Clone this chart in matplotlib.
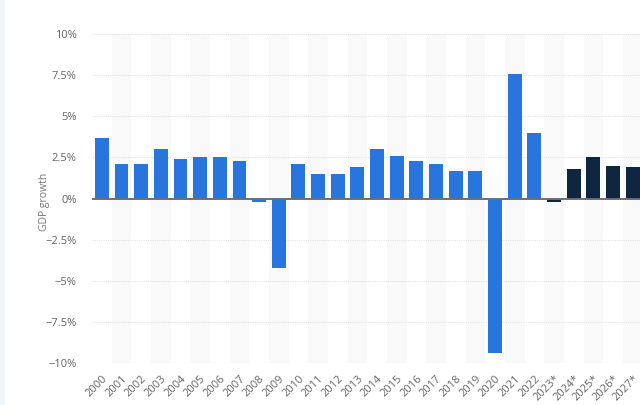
import matplotlib.pyplot as plt
from matplotlib.patches import Rectangle
from matplotlib.ticker import FuncFormatter

# data
years = ['2000', '2001', '2002', '2003', '2004', '2005', '2006', '2007', '2008', '2009',
         '2010', '2011', '2012', '2013', '2014', '2015', '2016', '2017', '2018', '2019',
         '2020', '2021', '2022', '2023*', '2024*', '2025*', '2026*', '2027*']
growth = [3.7, 2.1, 2.1, 3.0, 2.4, 2.5, 2.5, 2.3, -0.2, -4.2,
          2.1, 1.5, 1.5, 1.9, 3.0, 2.6, 2.3, 2.1, 1.7, 1.7,
          -9.4, 7.6, 4.0, -0.2, 1.8, 2.5, 2.0, 1.9]
is_forecast = [y.endswith('*') for y in years]
yticks = [-10, -7.5, -5, -2.5, 0, 2.5, 5, 7.5, 10]

blue = '#2876dd'
navy = '#0f2640'
txt = '#666666'

plt.rcParams['font.family'] = ['Open Sans', 'DejaVu Sans']

fig = plt.figure(figsize=(6.4, 4.05), dpi=100)
fig.patch.set_facecolor('#f3f4f6')
# white card behind everything
fig.patches.append(Rectangle((5 / 640, 0), 1, 1, transform=fig.transFigure,
                             facecolor='white', edgecolor='none', zorder=-10))

ax = fig.add_axes([92 / 640, 41.7 / 405, 550.6 / 640, 329.3 / 405])
ax.set_facecolor('white')

x = list(range(len(years)))
# alternating column bands
for i in x:
    if i % 2 == 1:
        ax.axvspan(i - 0.5, i + 0.5, color='#f9f9f9', zorder=0, lw=0)

for yt in yticks:
    if yt != 0:
        ax.axhline(yt, color='#e2e2e2', lw=0.8, ls=(0, (1, 1)), zorder=1)

colors = [navy if f else blue for f in is_forecast]
ax.bar(x, growth, width=0.71, color=colors, zorder=2)
ax.axhline(0, color='#6b6f76', lw=1.4, zorder=3)

ax.set_xlim(-0.5, len(years) - 0.5)
ax.set_ylim(-10, 10)
ax.set_yticks(yticks)
ax.yaxis.set_major_formatter(FuncFormatter(
    lambda v, p: ('\u2212' if v < 0 else '') + ('%g' % abs(v)) + '%'))
ax.set_xticks(x)
ax.set_xticklabels(years, rotation=45, ha='right', va='top', rotation_mode='anchor')
ax.tick_params(axis='both', length=0, labelsize=8, labelcolor=txt)
ax.tick_params(axis='y', pad=11)
ax.tick_params(axis='x', pad=7)
for s in ax.spines.values():
    s.set_visible(False)

ax.set_ylabel('GDP growth', fontsize=7.5, color='#777777')
ax.yaxis.set_label_coords(-0.077, 0.49)

fig.savefig('out.png', dpi=100, facecolor=fig.get_facecolor())
